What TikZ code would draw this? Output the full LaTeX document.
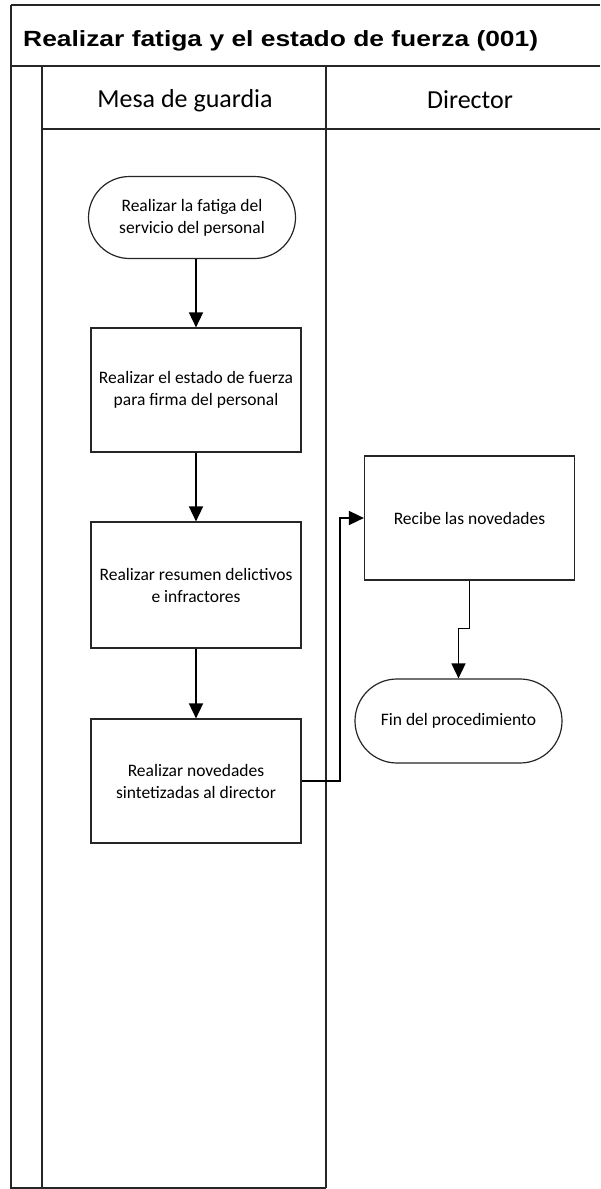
\documentclass[tikz,border=0pt]{standalone}
\usepackage{fontspec}
\setmainfont{Carlito}
\newfontfamily\titlefont[FakeStretch=1.2]{Liberation Sans}
\usetikzlibrary{arrows.meta,shapes.misc}
\tikzset{
  frame/.style={draw=black!85, line width=1.7pt},
  procbox/.style={draw=black!85, line width=1.2pt, rectangle, minimum width=210pt, minimum height=124pt, align=center, font=\fontsize{17.5}{22}\selectfont, inner sep=0pt},
  termbox/.style={draw=black!85, line width=1.2pt, rounded rectangle, minimum width=207pt, minimum height=82pt, align=center, font=\fontsize{17.5}{22}\selectfont, inner sep=0pt},
  conn/.style={draw=black, line width=1.6pt, -{Triangle[length=15pt,width=14pt]}},
  lanehead/.style={font=\fontsize{26}{30}\selectfont, anchor=base, inner sep=0pt}
}
\begin{document}
\begin{tikzpicture}[x=1pt,y=-1pt]
\useasboundingbox (0,0) rectangle (600,1189);
\fill[white] (0,0) rectangle (600,1189);
% frame
\draw[frame] (11,5) -- (600,5);
\draw[frame] (11,66) -- (600,66);
\draw[frame] (42,129) -- (600,129);
\draw[frame] (11,5) -- (11,1188) -- (326,1188);
\draw[frame] (42,66) -- (42,1188);
\draw[frame] (326,66) -- (326,1188);
% title and lane headers
\node[anchor=base west, inner sep=0pt, font=\titlefont\bfseries\fontsize{22}{26}\selectfont] (title) at (23,46) {Realizar fatiga y el estado de fuerza (001)};
\node[lanehead] (mesa) at (185,107) {Mesa de guardia};
\node[lanehead] (director) at (470,108) {Director};
% shapes
\node[termbox] (start) at (192,217.5) {Realizar la fatiga del\\servicio del personal};
\node[procbox] (box1) at (196,390) {Realizar el estado de fuerza\\para firma del personal};
\node[procbox, minimum height=126pt] (box2) at (196,585) {Realizar resumen delictivos\\e infractores};
\node[procbox] (box3) at (196,781) {Realizar novedades\\sintetizadas al director};
\node[procbox] (recibe) at (469.5,518) {Recibe las novedades};
\node[termbox, minimum height=84pt] (fin) at (458.5,721) {Fin del procedimiento};
% connectors
\coordinate (j1) at (340,0);
\draw[conn] (start.south -| box1.north) -- (box1.north);
\draw[conn] (box1.south) -- (box2.north);
\draw[conn] (box2.south) -- (box3.north);
\draw[conn] (box3.east) -| (j1 |- recibe.west) -- (recibe.west);
\draw[conn] (recibe.south) -- ++(0,48) -| (fin.north);
\end{tikzpicture}
\end{document}
